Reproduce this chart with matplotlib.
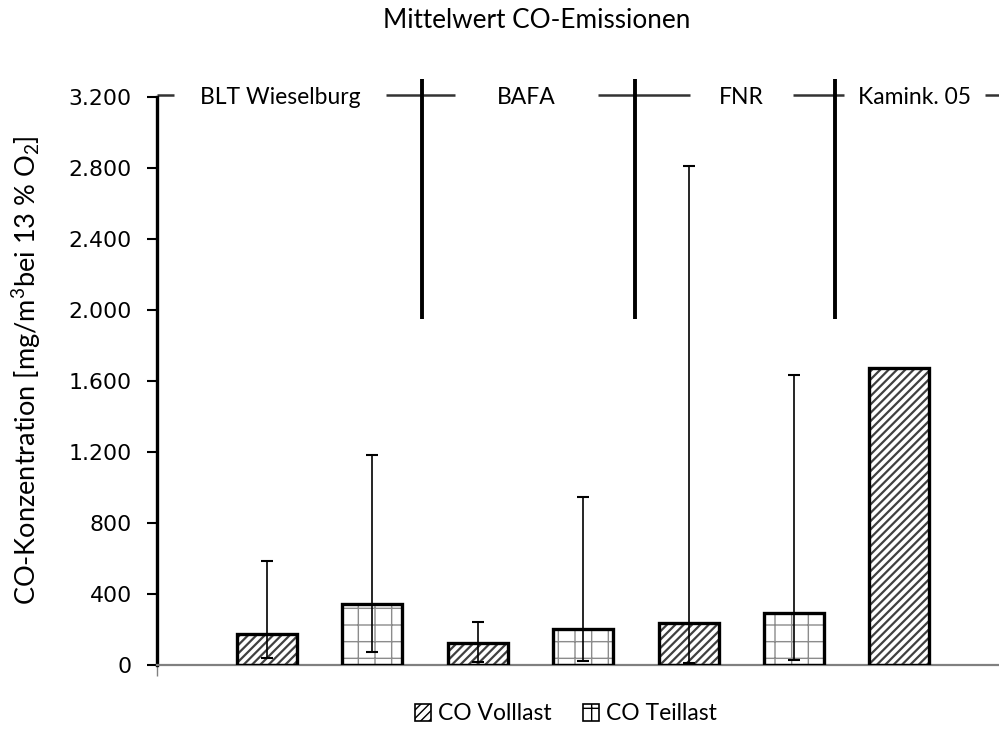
import matplotlib
matplotlib.use("Agg")
import matplotlib.pyplot as plt
from matplotlib.patches import Patch
from matplotlib.ticker import FuncFormatter

# values
voll_pos = [0, 2, 4, 6]
voll_mean = [175, 126, 238, 1675]
voll_err_pos = [0, 2, 4]
voll_min = [38, 15, 10]
voll_max = [586, 244, 2813]

teil_pos = [1, 3, 5]
teil_mean = [342, 201, 295]
teil_min = [71, 24, 26]
teil_max = [1183, 946, 1634]

# group labels sit in gaps of the 3.200 reference line
group_names = ["BLT Wieselburg", "BAFA", "FNR", "Kamink. 05"]
gap_left = [-0.88, 1.78, 4.01, 5.47]
gap_right = [1.13, 3.14, 4.99, 6.81]
dividers = [1.47, 3.49, 5.39]
divider_low = 1950
divider_high = 3300
label_level = 3210

plt.rcParams['font.family'] = ['Lato', 'DejaVu Sans']
plt.rcParams['mathtext.fontset'] = 'custom'
plt.rcParams['mathtext.rm'] = 'Lato'
plt.rcParams['mathtext.it'] = 'Lato'

fig = plt.figure(figsize=(9.99, 7.29), dpi=100)
ax = fig.add_axes([157/999, 1-665/729, 1-157/999, (665-97)/729])
xmin, xmax = -1.044, 6.945

w = 0.57
# Volllast bars
with plt.rc_context({'hatch.linewidth': 1.6}):
    ax.bar(voll_pos, voll_mean, width=w, color='white', edgecolor='#404040',
           linewidth=0, hatch='////', zorder=2)
# Teillast bars (dotted grid look)
with plt.rc_context({'hatch.linewidth': 1.0}):
    ax.bar(teil_pos, teil_mean, width=w, color='white', edgecolor='#8c8c8c',
           linewidth=0, hatch='+', zorder=2)
ax.bar(voll_pos, voll_mean, width=w, fill=False, edgecolor='black',
       linewidth=2.4, zorder=3)
ax.bar(teil_pos, teil_mean, width=w, fill=False, edgecolor='black',
       linewidth=2.4, zorder=3)

# min/max error bars
for pos, mean, lo, hi in [(voll_err_pos, voll_mean, voll_min, voll_max),
                          (teil_pos, teil_mean, teil_min, teil_max)]:
    m = mean[:len(pos)]
    ax.errorbar(pos, m, yerr=[[a - b for a, b in zip(m, lo)],
                              [b - a for a, b in zip(m, hi)]],
                fmt='none', ecolor='black', elinewidth=1.2, capsize=4,
                capthick=1.5, zorder=4)

# reference line with labels, and group separators
seg_x0 = [xmin] + gap_right
seg_x1 = gap_left + [xmax]
ax.hlines([label_level] * len(seg_x0), seg_x0, seg_x1, color='#333333',
          lw=1.8, zorder=1, clip_on=False)
ax.vlines(dividers, divider_low, divider_high, color='black', lw=2.8,
          zorder=5, clip_on=False)
for name, a, b in zip(group_names, gap_left, gap_right):
    ax.text((a + b) / 2, 3200, name, ha='center', va='center', fontsize=16.5,
            zorder=6, clip_on=False)

ax.set_xlim(xmin, xmax)
ax.set_ylim(0, 3200)
ax.set_yticks(range(0, 3201, 400))
ax.yaxis.set_major_formatter(FuncFormatter(lambda v, p: f"{int(v):,}".replace(",", ".")))
ax.set_xticks([xmin])
ax.set_xticklabels([])
ax.tick_params(axis='x', length=8, width=1, color='#808080')
ax.tick_params(axis='y', length=7, width=1.5, labelsize=15.8, pad=11)
for lab in ax.get_yticklabels():
    lab.set_family('DejaVu Sans')

for s in ['top', 'right']:
    ax.spines[s].set_visible(False)
ax.spines['left'].set_linewidth(2.4)
ax.spines['bottom'].set_color('#808080')
ax.spines['bottom'].set_linewidth(1.6)

fig.text(27/999, 1-370/729, 'CO-Konzentration [mg/m$^{3}$bei 13 % O$_{2}$]',
         rotation=90, ha='center', va='center', fontsize=19.5)

fig.text(537/999, 1-21/729, 'Mittelwert CO-Emissionen', ha='center', va='center',
         fontsize=18.8)

handles = [Patch(facecolor='white', edgecolor='black', hatch='////', lw=1.2),
           Patch(facecolor='white', edgecolor='black', hatch='+', lw=1.2)]
fig.legend(handles, ['CO Volllast', 'CO Teillast'], loc='center',
           bbox_to_anchor=(566/999, 1-714/729), ncol=2, frameon=False,
           fontsize=16.5, handlelength=0.7, handleheight=0.7, handletextpad=0.3,
           columnspacing=1.4)

fig.savefig('out.png', dpi=100)
